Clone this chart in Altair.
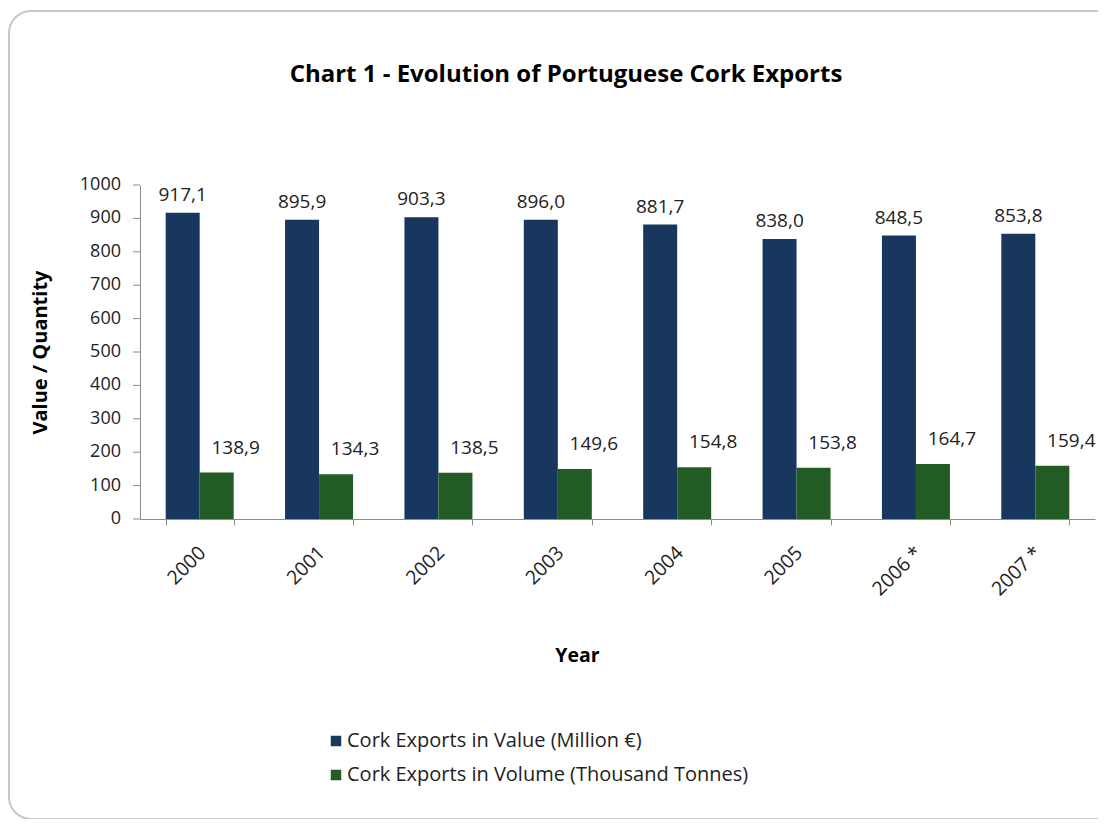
import altair as alt
import pandas as pd

years = ["2000", "2001", "2002", "2003", "2004", "2005", "2006 *", "2007 *"]
value_million_eur = [917.1, 895.9, 903.3, 896.0, 881.7, 838.0, 848.5, 853.8]
volume_thousand_t = [138.9, 134.3, 138.5, 149.6, 154.8, 153.8, 164.7, 159.4]
series_names = ["Cork Exports in Value (Million €)",
                "Cork Exports in Volume (Thousand Tonnes)"]
series_colors = ["#17375E", "#235B25"]
y_ticks = [0, 100, 200, 300, 400, 500, 600, 700, 800, 900, 1000]
title_text = "Chart 1 - Evolution of Portuguese Cork Exports"

rows = []
for y, v1, v2 in zip(years, value_million_eur, volume_thousand_t):
    rows.append({"year": y, "series": series_names[0], "val": v1,
                 "label": f"{v1:.1f}".replace(".", ",")})
    rows.append({"year": y, "series": series_names[1], "val": v2,
                 "label": f"{v2:.1f}".replace(".", ",")})
df = pd.DataFrame(rows)
ticks_df = pd.DataFrame({"t": y_ticks, "tl": [str(t) for t in y_ticks]})

FONT = "Open Sans"
W, H = 955, 334
AXIS_GRAY = "#8c8c8c"

x_enc = alt.X("year:N", sort=years,
              scale=alt.Scale(paddingInner=0.4304, paddingOuter=0.2152),
              axis=alt.Axis(title="Year", labelAngle=-45, labelAlign="right",
                            labelBaseline="top", labelPadding=18, labelOffset=-4,
                            tickBand="extent", tickSize=6, tickColor=AXIS_GRAY,
                            domainColor=AXIS_GRAY, labelFontSize=19.5,
                            labelColor="#222", labelFont=FONT,
                            titleFont=FONT, titleFontSize=19.5, titleFontWeight="bold",
                            titleColor="#000", titleX=437, titleY=136,
                            titleAlign="center", titleBaseline="middle"))
xo_enc = alt.XOffset("series:N", sort=series_names,
                     scale=alt.Scale(paddingInner=0, paddingOuter=0))
y_scale = alt.Scale(domain=[0, 1000], nice=False)
y_enc = alt.Y("val:Q", scale=y_scale,
              axis=alt.Axis(title="Value / Quantity", grid=False,
                            ticks=False, labels=False, domainColor=AXIS_GRAY,
                            titleFont=FONT, titleFontSize=20,
                            titleFontWeight="bold", titleColor="#000",
                            titleX=-100, titleY=167, titleAngle=-90,
                            titleAlign="center", titleBaseline="middle"))

color_enc = alt.Color("series:N", sort=series_names,
                      scale=alt.Scale(domain=series_names, range=series_colors),
                      legend=alt.Legend(orient="none", legendX=186, legendY=546,
                                        direction="vertical", title=None,
                                        symbolType="square", symbolSize=110,
                                        symbolStrokeWidth=0, labelFontSize=20,
                                        labelFont=FONT, labelColor="#222",
                                        rowPadding=14, labelOffset=1,
                                        labelLimit=700))

base = alt.Chart(df)

bars = base.mark_bar().encode(x=x_enc, xOffset=xo_enc, y=y_enc, color=color_enc)

txt_value = base.transform_filter(
    alt.datum.series == series_names[0]
).mark_text(baseline="bottom", dy=-8, fontSize=19, font=FONT, color="#222").encode(
    x=x_enc, xOffset=xo_enc, y=y_enc, text="label:N")

txt_volume = base.transform_filter(
    alt.datum.series == series_names[1]
).mark_text(baseline="bottom", dy=-15, dx=19, fontSize=19, font=FONT, color="#222").encode(
    x=x_enc, xOffset=xo_enc, y=y_enc, text="label:N")

# y-axis ticks and tick labels
tick_marks = alt.Chart(ticks_df).mark_rule(color=AXIS_GRAY, strokeWidth=1).encode(
    x=alt.value(-7), x2=alt.value(0), y=alt.Y("t:Q", scale=y_scale))
tick_labels = alt.Chart(ticks_df).mark_text(
    align="right", baseline="middle", fontSize=18, font=FONT, color="#222"
).encode(x=alt.value(-19), y=alt.Y("t:Q", scale=y_scale), text="tl:N")

title_mark = alt.Chart(pd.DataFrame({"title": [title_text]})).mark_text(
    align="center", baseline="middle", fontSize=24, fontWeight="bold",
    font=FONT, color="#000"
).encode(x=alt.value(426), y=alt.value(-110), text="title:N")

frame = alt.Chart(pd.DataFrame({"f": [0]})).mark_rect(
    fillOpacity=0, stroke="#c8c8c8", strokeWidth=2, cornerRadius=22
).encode(x=alt.value(-131), x2=alt.value(W + 30),
         y=alt.value(-174), y2=alt.value(H + 300))

chart = alt.layer(frame, title_mark, bars, txt_value, txt_volume,
                  tick_marks, tick_labels).properties(
    width=W, height=H,
    autosize=alt.AutoSizeParams(type="none"),
    padding={"left": 132, "top": 177, "right": 3, "bottom": 300},
    background="white",
).configure_view(stroke=None)

chart.save("out.html", embed_options={"renderer": "svg", "actions": False})
